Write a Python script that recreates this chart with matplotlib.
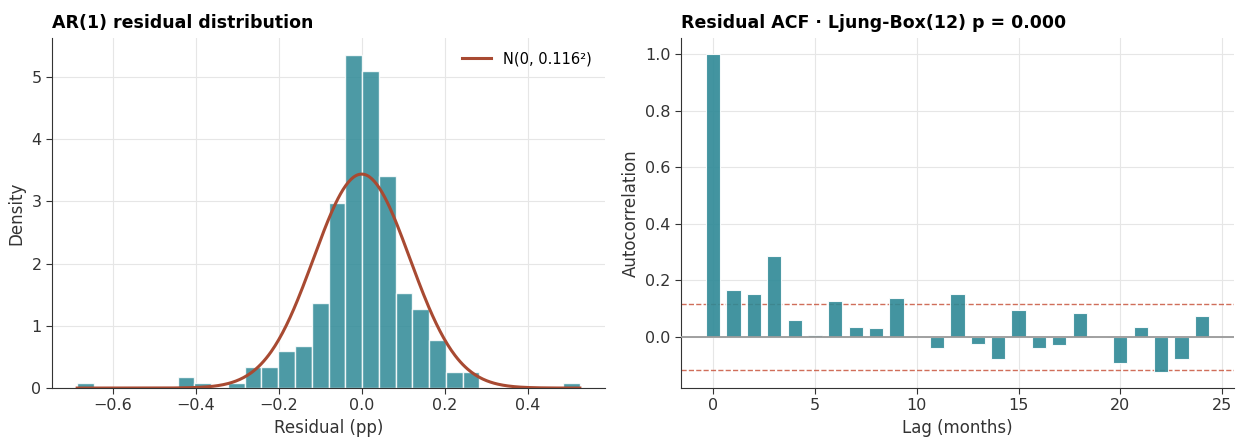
import numpy as np
import matplotlib
matplotlib.use("Agg")
import matplotlib.pyplot as plt

# residual histogram: 30 equal bins, counts per bin
bin_lo, bin_hi, n_bins = -0.686, 0.526, 30
bin_counts = [1, 0, 0, 0, 0, 0, 2, 1, 0, 1,
              4, 4, 7, 8, 16, 35, 63, 60, 40, 18,
              15, 9, 3, 3, 0, 0, 0, 0, 0, 1]
resid_sigma = 0.116

# residual autocorrelation, lags 0..24
lags = list(range(25))
acf_vals = [1.0, 0.167, 0.151, 0.288, 0.059, 0.006, 0.126, 0.036, 0.032, 0.138,
            0.002, -0.040, 0.153, -0.024, -0.076, 0.096, -0.040, -0.028, 0.086, 0.0,
            -0.092, 0.034, -0.124, -0.076, 0.075]
conf_band = 0.117
lb_pvalue = 0.000

teal = "#2e8996"
rust = "#a84a32"

plt.rcParams.update({
    "font.family": "DejaVu Sans",
    "axes.edgecolor": "#333333",
    "axes.labelcolor": "#333333",
    "xtick.color": "#333333",
    "ytick.color": "#333333",
    "xtick.labelsize": 11.5,
    "ytick.labelsize": 11.5,
    "axes.labelsize": 12,
})

fig = plt.figure(figsize=(12.39, 4.37), dpi=100)
ax1 = fig.add_axes([0.042, 0.112, 0.4463, 0.801])
ax2 = fig.add_axes([0.5496, 0.112, 0.4464, 0.801])

edges = np.linspace(bin_lo, bin_hi, n_bins + 1)
centers = (edges[:-1] + edges[1:]) / 2
ax1.hist(centers, bins=edges, weights=bin_counts, density=True,
         color=teal, alpha=0.85, edgecolor="white", linewidth=1.0, zorder=2)
xs = np.linspace(bin_lo, bin_hi, 400)
pdf = np.exp(-0.5 * (xs / resid_sigma) ** 2) / (resid_sigma * np.sqrt(2 * np.pi))
ax1.plot(xs, pdf, color=rust, lw=2.2, zorder=3,
         label=f"N(0, {resid_sigma:.3f}²)")
ax1.set_title("AR(1) residual distribution", loc="left",
              fontsize=12.5, fontweight="bold", pad=7)
ax1.set_xlabel("Residual (pp)")
ax1.set_ylabel("Density")
ax1.legend(loc="upper right", frameon=False, fontsize=10.5)

ax2.bar(lags, acf_vals, width=0.7, color=teal, alpha=0.9,
        edgecolor="white", linewidth=0.8, zorder=2)
ax2.axhline(0, color="#999999", lw=1.3, zorder=3)
ax2.axhline(conf_band, color="#c8553d", lw=1.0, ls="--", alpha=0.85, zorder=1)
ax2.axhline(-conf_band, color="#c8553d", lw=1.0, ls="--", alpha=0.85, zorder=1)
ax2.set_title(f"Residual ACF · Ljung-Box(12) p = {lb_pvalue:.3f}", loc="left",
              fontsize=12.5, fontweight="bold", pad=7)
ax2.set_xlabel("Lag (months)")
ax2.set_ylabel("Autocorrelation")

for ax in (ax1, ax2):
    ax.grid(True, color="#e6e6e6", lw=0.8, zorder=0)
    ax.set_axisbelow(True)
    for side in ("top", "right"):
        ax.spines[side].set_visible(False)
    ax.tick_params(length=4)

fig.savefig("out.png", dpi=100)
